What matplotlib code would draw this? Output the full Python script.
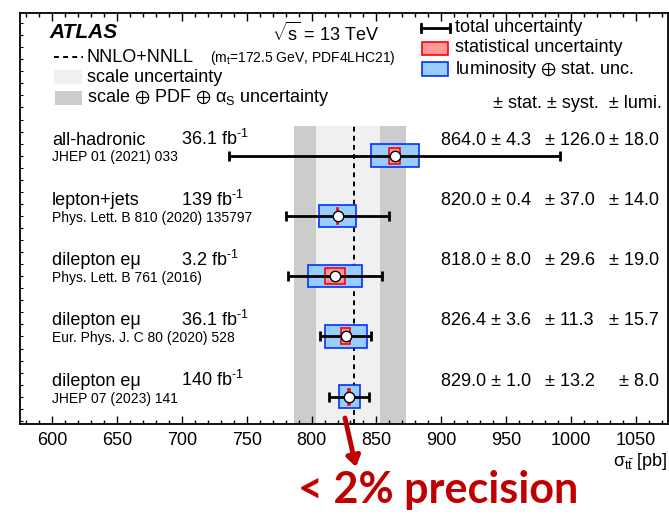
import matplotlib
matplotlib.use("Agg")
import matplotlib.pyplot as plt
import matplotlib.transforms as mtransforms
from matplotlib.patches import Rectangle, FancyArrowPatch
from matplotlib.lines import Line2D
from matplotlib.ticker import MultipleLocator
import numpy as np

plt.rcParams['font.family'] = ['Liberation Sans', 'DejaVu Sans']
plt.rcParams['mathtext.fontset'] = 'custom'
plt.rcParams['mathtext.rm'] = 'Liberation Sans'
plt.rcParams['mathtext.it'] = 'Liberation Sans:italic'
plt.rcParams['mathtext.bf'] = 'Liberation Sans:bold'
plt.rcParams['mathtext.default'] = 'regular'

# measurements (top to bottom)
channels = ["all-hadronic", "lepton+jets", "dilepton eμ", "dilepton eμ", "dilepton eμ"]
lumis = ["36.1", "139", "3.2", "36.1", "140"]
refs = ["JHEP 01 (2021) 033", "Phys. Lett. B 810 (2020) 135797",
        "Phys. Lett. B 761 (2016)", "Eur. Phys. J. C 80 (2020) 528",
        "JHEP 07 (2023) 141"]
xsec = np.array([864.0, 820.0, 818.0, 826.4, 829.0])
stat = np.array([4.3, 0.4, 8.0, 3.6, 1.0])
syst = np.array([126.0, 37.0, 29.6, 11.3, 13.2])
lumi = np.array([18.0, 14.0, 19.0, 15.7, 8.0])

# NNLO+NNLL prediction
pred = 833.0
scale_band = (803.5, 853.0)
total_band = (786.5, 873.0)

tot = np.sqrt(stat**2 + syst**2 + lumi**2)
lumstat = np.sqrt(stat**2 + lumi**2)
ypos = np.arange(len(xsec), 0, -1)

W, H = 669, 517
fig = plt.figure(figsize=(W / 100, H / 100), dpi=100)
ax = fig.add_axes([20 / W, 1 - 424 / H, 648 / W, 411 / H])
ax.set_xlim(575, 1075)
ylo, yhi = 0.547, 7.368
ax.set_ylim(ylo, yhi)

def fx(px):
    return px / W

def fy(py):
    return 1 - py / H

def axx(px):
    return (px - 20) / 648

# theory bands
ax.fill_between(total_band, ylo, 5.5, color='#cccccc', lw=0, zorder=0)
ax.fill_between(scale_band, ylo, 5.5, color='#f0f0f0', lw=0, zorder=0)
ax.plot([pred, pred], [ylo, 5.5], color='k', lw=1.4, ls=(0, (2.5, 2.2)), zorder=1)

for i, y in enumerate(ypos):
    ax.add_patch(Rectangle((xsec[i] - lumstat[i], y - 0.186), 2 * lumstat[i], 0.372,
                           fc='#99ccff', ec='#0033ff', lw=1.2, zorder=2))
    ax.add_patch(Rectangle((xsec[i] - stat[i], y - 0.133), 2 * stat[i], 0.266,
                           fc='#ff9999', ec='#ff0000', lw=1.2, zorder=3))
ax.errorbar(xsec, ypos, xerr=tot, fmt='none', ecolor='k', elinewidth=2.0,
            capsize=3.3, capthick=2.0, zorder=4)
ax.plot(xsec, ypos, 'o', mfc='white', mec='k', ms=7.5, mew=1.0, zorder=5)

# row labels and numbers
blend = mtransforms.blended_transform_factory(ax.transAxes, ax.transData)
for i, y in enumerate(ypos):
    ax.text(axx(52), y + 0.26, channels[i], transform=blend, fontsize=13, va='center')
    ax.text(axx(181), y + 0.27, lumis[i] + r" fb$^{\text{-1}}$", transform=blend,
            fontsize=13, va='center')
    ax.text(axx(52), y - 0.03, refs[i], transform=blend, fontsize=10, va='center')
    ax.text(axx(441), y + 0.26, f"{xsec[i]:.1f} ± {stat[i]:.1f}", transform=blend,
            fontsize=13, va='center')
    ax.text(axx(545), y + 0.26, f"± {syst[i]:.1f}", transform=blend, fontsize=13, va='center')
    ax.text(axx(659), y + 0.26, f"± {lumi[i]:.1f}", transform=blend, fontsize=13,
            va='center', ha='right')

# axes styling
ax.set_xticks(np.arange(600, 1051, 50))
ax.xaxis.set_minor_locator(MultipleLocator(10))
ax.yaxis.set_major_locator(MultipleLocator(1.0))
ax.yaxis.set_minor_locator(MultipleLocator(0.2))
ax.tick_params(axis='x', which='both', direction='in', top=True, labelsize=13, pad=6)
ax.tick_params(axis='x', which='major', length=5.5, width=1.0)
ax.tick_params(axis='x', which='minor', length=2.8, width=1.0)
ax.tick_params(axis='y', which='both', direction='in', left=True, labelleft=False,
               length=2.5, width=0.8)
for s in ax.spines.values():
    s.set_linewidth(1.3)

fig.text(fx(668), fy(462), r"$\sigma_{\mathrm{t\bar{t}}}$ [pb]", fontsize=13,
         ha='right', va='center')

# header
fig.text(fx(49), fy(33), "ATLAS", fontsize=15, weight='bold', style='italic', va='center')
fig.text(fx(272), fy(33), r"$\sqrt{s}$ = 13 TeV", fontsize=13, va='center')

fig.add_artist(Line2D([fx(54), fx(83)], [fy(57)] * 2, color='k', lw=1.4, ls=(0, (2.5, 2.2))))
fig.text(fx(87), fy(57), "NNLO+NNLL", fontsize=13, va='center')
fig.text(fx(210), fy(58), r"(m$_{t}$=172.5 GeV, PDF4LHC21)", fontsize=10, va='center')
fig.add_artist(Rectangle((fx(54), fy(84)), fx(28), 14 / H, fc='#f0f0f0', lw=0))
fig.text(fx(87), fy(77), "scale uncertainty", fontsize=13, va='center')
fig.add_artist(Rectangle((fx(55), fy(105)), fx(27), 14 / H, fc='#cccccc', lw=0))
fig.text(fx(87), fy(98), r"scale $\oplus$ PDF $\oplus$ $\alpha_{S}$ uncertainty",
         fontsize=13, va='center')

# right-hand legend
fig.add_artist(Line2D([fx(421), fx(450)], [fy(28)] * 2, color='k', lw=2.0))
for cx in (421, 450):
    fig.add_artist(Line2D([fx(cx)] * 2, [fy(24), fy(32)], color='k', lw=2.0))
fig.text(fx(455), fy(28), "total uncertainty", fontsize=13, va='center')
fig.add_artist(Rectangle((fx(422), fy(55)), fx(26), 13 / H, fc='#ff9999', ec='#ff0000', lw=1.2))
fig.text(fx(455), fy(48), "statistical uncertainty", fontsize=13, va='center')
fig.add_artist(Rectangle((fx(422), fy(76)), fx(26), 14 / H, fc='#99ccff', ec='#0033ff', lw=1.2))
fig.text(fx(455), fy(69), r"luminosity $\oplus$ stat. unc.", fontsize=13, va='center')
fig.text(fx(662), fy(104), "± stat. ± syst.  ± lumi.", fontsize=13, ha='right', va='center')

# precision callout
fig.add_artist(FancyArrowPatch(
    (fx(345), fy(418)), (fx(356), fy(467)), transform=fig.transFigure,
    arrowstyle='-|>,head_length=6,head_width=4', color='#c00000', lw=3.5,
    shrinkA=0, shrinkB=0))
fig.text(fx(438), fy(490), "< 2% precision", fontsize=31, weight='bold',
         family='Lato', color='#c00000', ha='center', va='center')

fig.savefig("out.png", dpi=100)
